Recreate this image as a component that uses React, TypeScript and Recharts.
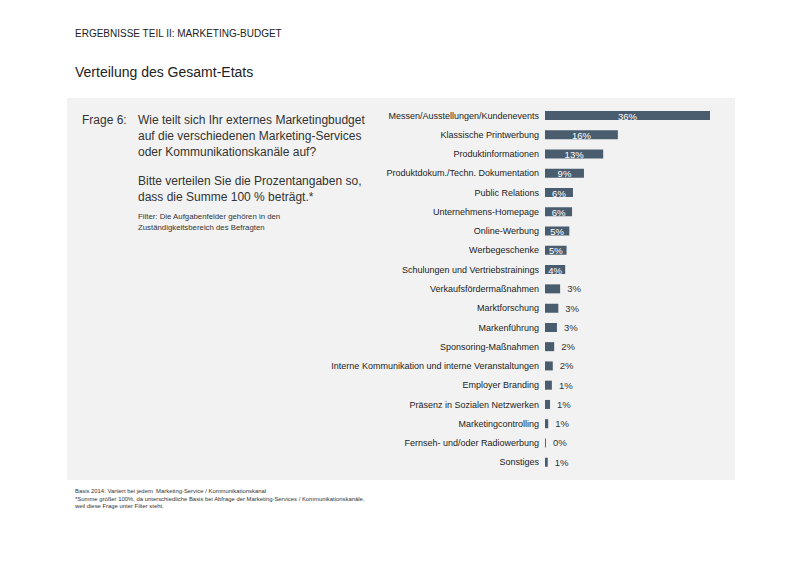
import { BarChart, Bar, XAxis, YAxis, LabelList, Cell } from 'recharts';

const categories = [
  'Messen/Ausstellungen/Kundenevents',
  'Klassische Printwerbung',
  'Produktinformationen',
  'Produktdokum./Techn. Dokumentation',
  'Public Relations',
  'Unternehmens-Homepage',
  'Online-Werbung',
  'Werbegeschenke',
  'Schulungen und Vertriebstrainings',
  'Verkaufsfördermaßnahmen',
  'Marktforschung',
  'Markenführung',
  'Sponsoring-Maßnahmen',
  'Interne Kommunikation und interne Veranstaltungen',
  'Employer Branding',
  'Präsenz in Sozialen Netzwerken',
  'Marketingcontrolling',
  'Fernseh- und/oder Radiowerbung',
  'Sonstiges',
];

const shares = [36, 15.9, 12.7, 8.5, 6.1, 5.9, 5.3, 4.7, 4.4, 3.3, 2.9, 2.6, 2.0, 1.7, 1.5, 1.1, 0.7, 0.2, 0.6];

const labels = ['36%', '16%', '13%', '9%', '6%', '6%', '5%', '5%', '4%', '3%', '3%', '3%', '2%', '2%', '1%', '1%', '1%', '0%', '1%'];

const BAR_COLOR = '#4a5d6f';
const FONT = '"Liberation Sans", Arial, sans-serif';

const data = categories.map((name, i) => ({ name, value: shares[i], label: labels[i] }));

const renderLabel = (props: any) => {
  const { x, y, width, height, index } = props;
  const inside = index < 9;
  const text = labels[index];
  if (inside) {
    return (
      <text x={x + width / 2} y={y + height / 2 + 0.5} fill="#fff" fontSize={9.5} textAnchor="middle" dominantBaseline="central" fontFamily={FONT}>
        {text}
      </text>
    );
  }
  return (
    <text x={x + width + 7} y={y + height / 2} fill="#333" fontSize={9.5} textAnchor="start" dominantBaseline="central" fontFamily={FONT}>
      {text}
    </text>
  );
};

const CategoryTick = (props: any) => {
  const { x, y, payload } = props;
  return (
    <text x={x} y={y} textAnchor="end" dominantBaseline="central" fontSize={9} fill="#222" fontFamily={FONT}>
      {payload.value}
    </text>
  );
};

export default function App() {
  return (
    <div style={{ position: 'absolute', left: 0, top: 0, width: 800, height: 566, background: '#fff', fontFamily: FONT, color: '#222', overflow: 'hidden', whiteSpace: 'nowrap' }}>
      <div style={{ position: 'absolute', left: 75, top: 28, fontSize: 10 }}>ERGEBNISSE TEIL II: MARKETING-BUDGET</div>
      <div style={{ position: 'absolute', left: 75, top: 64, fontSize: 14 }}>Verteilung des Gesamt-Etats</div>

      <div style={{ position: 'absolute', left: 67, top: 98, width: 668, height: 382, background: '#f2f2f2' }} />

      <div style={{ position: 'absolute', left: 82, top: 112, fontSize: 12, color: '#333', lineHeight: '16px' }}>Frage 6:</div>
      <div style={{ position: 'absolute', left: 138, top: 112, fontSize: 12, color: '#333', lineHeight: '16px' }}>
        Wie teilt sich Ihr externes Marketingbudget<br />
        auf die verschiedenen Marketing-Services<br />
        oder Kommunikationskanäle auf?
      </div>
      <div style={{ position: 'absolute', left: 138, top: 173, fontSize: 12, color: '#333', lineHeight: '16px' }}>
        Bitte verteilen Sie die Prozentangaben so,<br />
        dass die Summe 100 % beträgt.*
      </div>
      <div style={{ position: 'absolute', left: 138, top: 212, fontSize: 7.8, color: '#333', lineHeight: '10.5px' }}>
        Filter: Die Aufgabenfelder gehören in den<br />
        Zuständigkeitsbereich des Befragten
      </div>

      <div style={{ position: 'absolute', left: 300, top: 100 }}>
        <BarChart width={430} height={380} data={data} layout="vertical" margin={{ top: 6, right: 20, bottom: 8, left: 0 }} barSize={9}>
          <XAxis type="number" domain={[0, 36]} hide />
          <YAxis
            type="category"
            dataKey="name"
            width={245}
            axisLine={false}
            tickLine={false}
            tickSize={0}
            tickMargin={6}
            interval={0}
            tick={<CategoryTick />}
          />
          <Bar dataKey="value" fill={BAR_COLOR} isAnimationActive={false}>
            {data.map((d, i) => (
              <Cell key={`c-${i}`} fill={BAR_COLOR} />
            ))}
            <LabelList dataKey="label" content={renderLabel} />
          </Bar>
        </BarChart>
      </div>

      <div style={{ position: 'absolute', left: 75, top: 488, fontSize: 5.9, color: '#333', lineHeight: '7.5px' }}>
        Basis 2014: Variiert bei jedem&nbsp; Marketing-Service / Kommunikationskanal<br />
        *Summe größer 100%, da unterschiedliche Basis bei Abfrage der Marketing-Services / Kommunikationskanäle,<br />
        weil diese Frage unter Filter steht.
      </div>
    </div>
  );
}
